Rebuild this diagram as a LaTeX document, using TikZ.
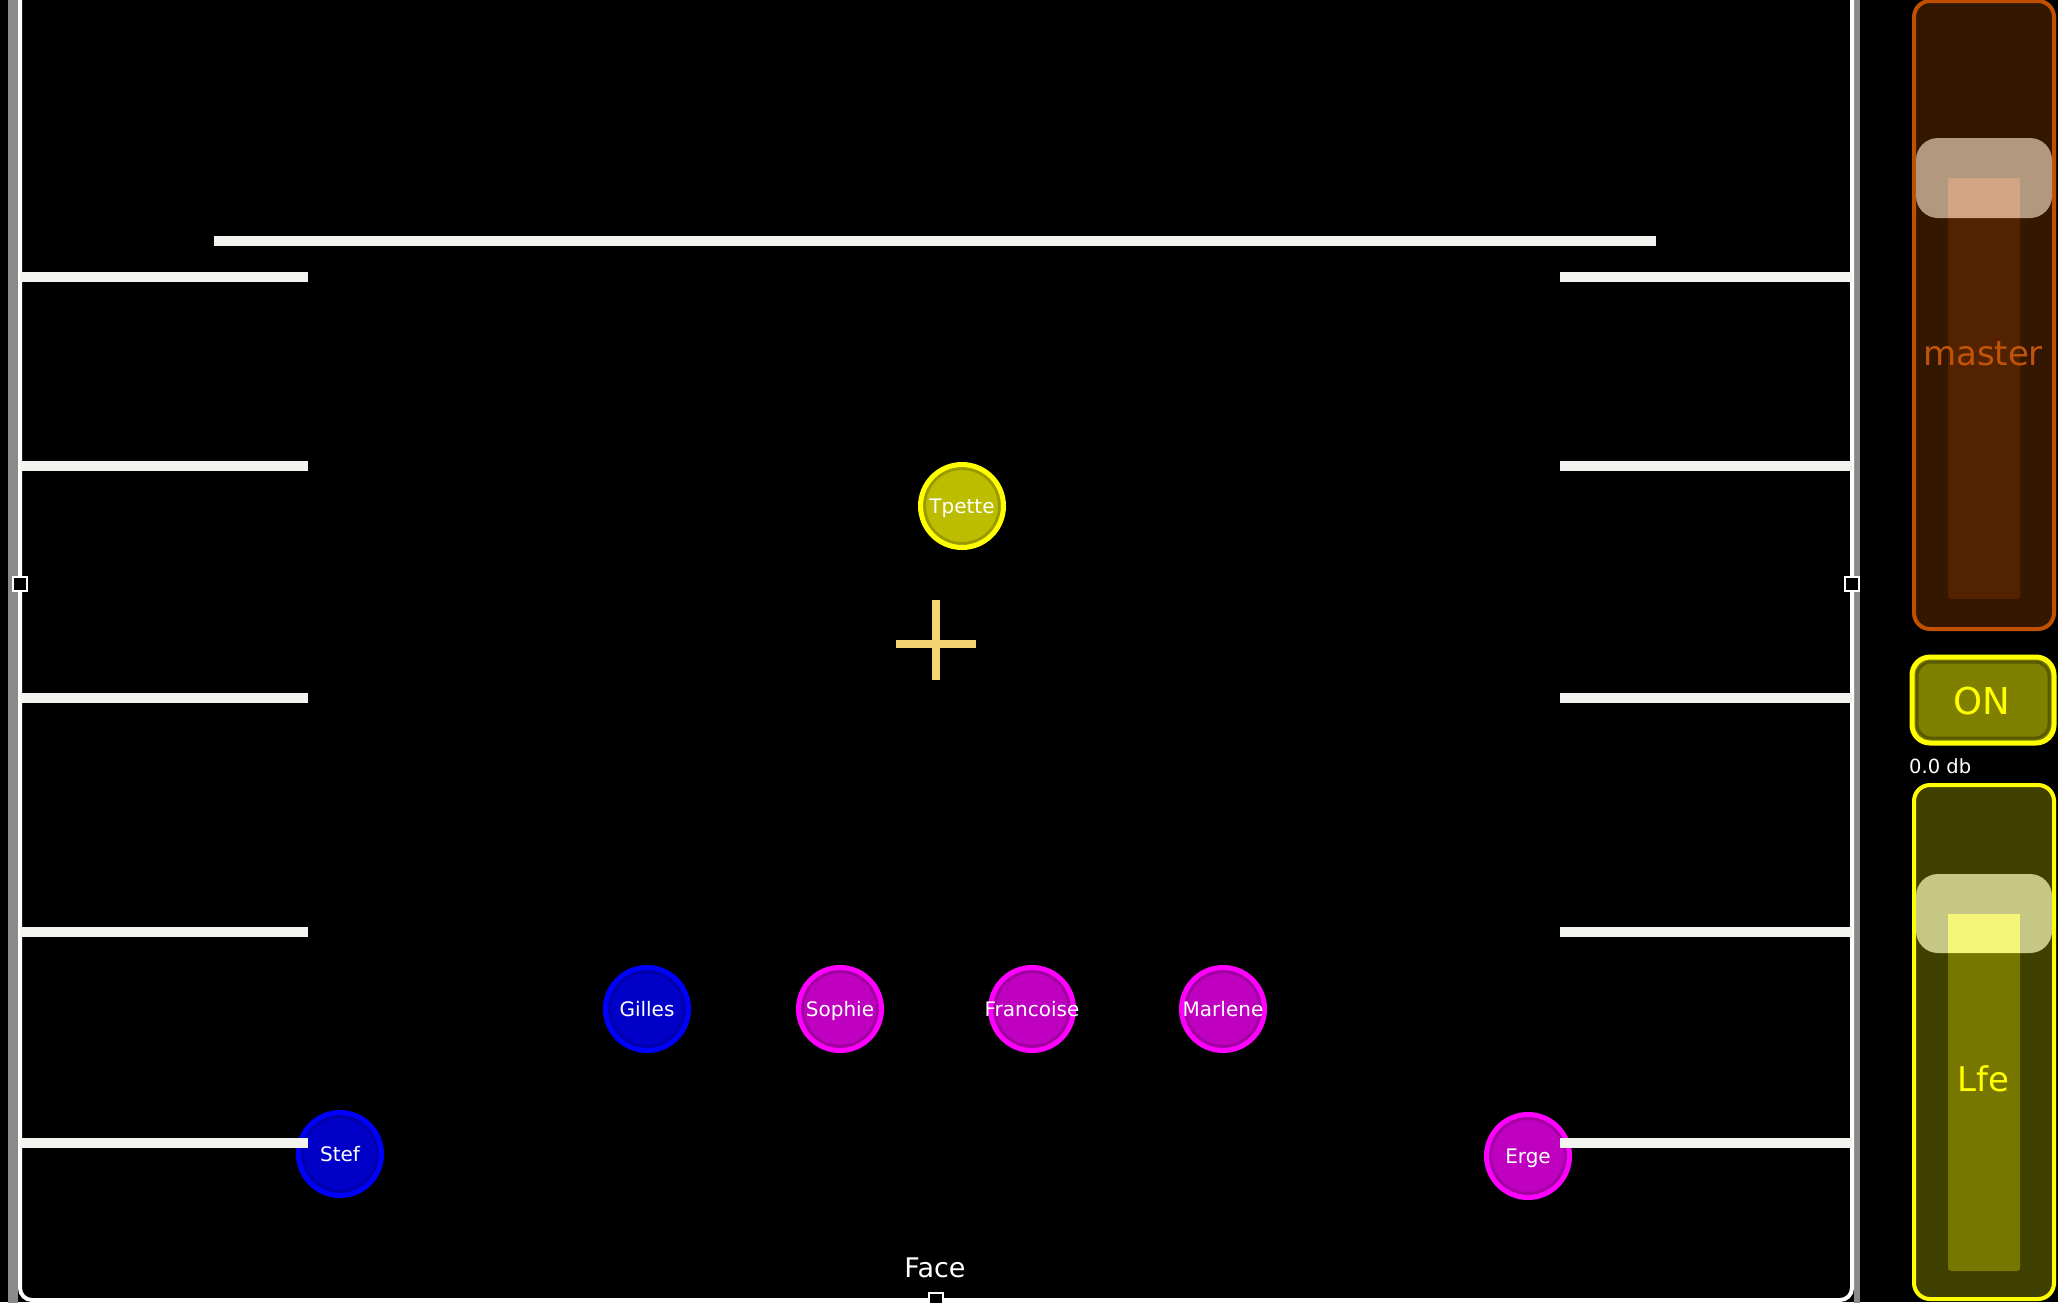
\documentclass[tikz,border=0pt]{standalone}
\usepackage{fontspec}
\setmainfont{DejaVu Sans}
\definecolor{barwhite}{HTML}{F3F3F0}
\definecolor{crossyel}{HTML}{F5D272}
\definecolor{mastline}{HTML}{C05000}
\definecolor{mastbg}{HTML}{331700}
\definecolor{mastbar}{HTML}{532200}
\definecolor{masthdl}{HTML}{B39880}
\definecolor{masthit}{HTML}{D4A584}
\definecolor{masttxt}{HTML}{C2540A}
\definecolor{lfebg}{HTML}{404000}
\definecolor{lfebar}{HTML}{777700}
\definecolor{lfehdl}{HTML}{C7C785}
\definecolor{lfehit}{HTML}{F5F57A}
\definecolor{onfill}{HTML}{808000}
\definecolor{onring}{HTML}{5A5A00}
\definecolor{yelfill}{HTML}{BDBD00}
\definecolor{yelline}{HTML}{FFFF00}
\definecolor{yelring}{HTML}{9A9A00}
\definecolor{blufill}{HTML}{0000C8}
\definecolor{bluline}{HTML}{0000FF}
\definecolor{bluring}{HTML}{0000A8}
\definecolor{magfill}{HTML}{C000C0}
\definecolor{magline}{HTML}{FF00FF}
\definecolor{magring}{HTML}{A000A0}
\definecolor{framegray}{HTML}{8A8A8A}
\usetikzlibrary{calc}
\begin{document}
\begin{tikzpicture}[x=1pt,y=-1pt,
    src/.style n args={3}{circle,minimum size=83pt,inner sep=0pt,line width=5pt,draw=#2,fill=#1,
      path picture={\draw[#3,line width=3pt](path picture bounding box.center) circle (37.5pt);}},
    every label/.style={text=white,text height=18pt,text depth=4pt,font=\fontsize{20}{24}\selectfont},
    bar/.style={line width=10pt,color=barwhite},
    grip/.style={draw=white,line width=2pt,fill=black,minimum size=14pt,inner sep=0pt}]
  \useasboundingbox (0,0) rectangle (2058,1302);
  \fill[black] (0,0) rectangle (2058,1302);
  % stage frame
  \draw[framegray,line width=10pt] (13,-20) -- (13,1310);
  \draw[framegray,line width=6pt] (1857,-20) -- (1857,1310);
  \draw[white,line width=4pt,rounded corners=12pt] (20,-20) -- (20,1300) -- (1852,1300) -- (1852,-20);
  \node[grip](gl)at(20,584){};
  \node[grip](gr)at(1852,584){};
  \node[grip](gb)at(936,1300){};
  % sources
  \node[src={yelfill}{yelline}{yelring},label=center:Tpette](tpette)at(962,506){};
  \node[src={blufill}{bluline}{bluring},label=center:Gilles](gilles)at(647,1009){};
  \node[src={magfill}{magline}{magring},label=center:Sophie](sophie)at(840,1009){};
  \node[src={magfill}{magline}{magring},label=center:Francoise](francoise)at(1032,1009){};
  \node[src={magfill}{magline}{magring},label=center:Marlene](marlene)at(1223,1009){};
  \node[src={blufill}{bluline}{bluring},label=center:Stef](stef)at(340,1154){};
  \node[src={magfill}{magline}{magring},label=center:Erge](erge)at(1528,1156){};
  % walls
  \draw[bar] (214,241) -- (1656,241);
  \foreach \y in {277,466,698,932,1143} {
    \draw[bar] (20,\y) -- (308,\y);
    \draw[bar] (1560,\y) -- (1852,\y);
  }
  \draw[crossyel,line width=8pt] (896,644) -- (976,644) (936,600) -- (936,680);
  \node[white,font=\fontsize{27}{32}\selectfont](face)at(935,1268){Face};
  % master fader
  \draw[mastline,fill=mastbg,line width=4pt,rounded corners=16pt] (1914,1) rectangle (2054,629);
  \fill[mastbar,rounded corners=3pt] (1948,178) rectangle (2020,599);
  \fill[masthdl,rounded corners=22pt] (1916,138) rectangle (2052,218);
  \fill[masthit] (1948,178) rectangle (2020,218);
  \node[masttxt,font=\fontsize{34}{40}\selectfont](master)at(1983,354){master};
  % on button
  \draw[yelline,fill=onfill,line width=5pt,rounded corners=18pt] (1912,657) rectangle (2054,743);
  \draw[onring,line width=3pt,rounded corners=14pt] (1917,662) rectangle (2049,738);
  \node[yelline,font=\fontsize{37}{44}\selectfont](on)at(1982,701){ON};
  \node[white,anchor=west,inner sep=0pt,font=\fontsize{19.5}{23}\selectfont](db)at(1909,766){0.0 db};
  % lfe fader
  \draw[yelline,fill=lfebg,line width=4pt,rounded corners=16pt] (1914,785) rectangle (2054,1299);
  \fill[lfebar,rounded corners=3pt] (1948,914) rectangle (2020,1271);
  \fill[lfehdl,rounded corners=22pt] (1916,874) rectangle (2052,953);
  \fill[lfehit] (1948,914) rectangle (2020,953);
  \node[yelline,font=\fontsize{34}{40}\selectfont](lfe)at(1983,1079){Lfe};
\end{tikzpicture}
\end{document}
